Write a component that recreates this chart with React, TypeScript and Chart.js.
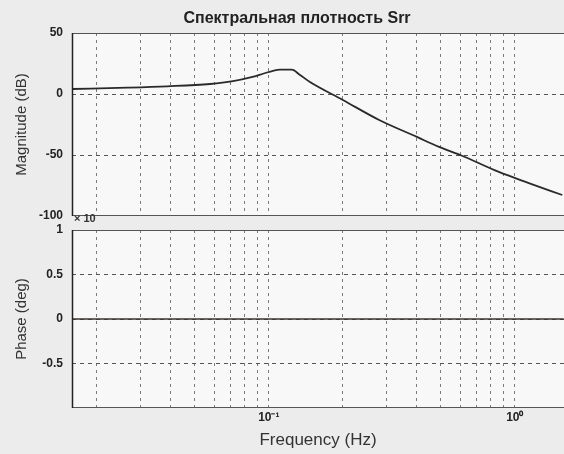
import React, { useEffect, useRef } from "react";
import { Chart, registerables } from "chart.js";
Chart.register(...registerables);

// ---- data ----
const freqHz = [0.0159, 0.0266, 0.0386, 0.0577, 0.0715, 0.085, 0.096, 0.104, 0.111, 0.124, 0.134, 0.147, 0.2, 0.281, 0.4, 0.492, 0.6, 0.861, 1.14, 1.56];
const magnitudeDb = [4.1, 5.2, 6.3, 8.2, 10.5, 13.8, 17.0, 19.0, 19.9, 19.9, 15.6, 9.8, -4.9, -21.3, -35.2, -43.4, -50, -63.9, -73, -82.8];
const phaseFreqHz = [0.0159, 1.58];
const phaseDeg = [0, 0];

const magTicks = [50, 0, -50, -100];
const phaseTicks = [1, 0.5, 0, -0.5, -1];
const phaseTickLabels = ["1", "0.5", "0", "-0.5", ""];
const freqGridHz = [0.02, 0.03, 0.04, 0.05, 0.06, 0.07, 0.08, 0.09, 0.1, 0.2, 0.3, 0.4, 0.5, 0.6, 0.7, 0.8, 0.9, 1];
const decadeTickValues = [0.1, 1];
const decadeTickLabels = ["10\u207B\u00B9", "10\u2070"];

const titleText = "Спектральная плотность Srr";
const magTitle = "Magnitude (dB)";
const phaseTitle = "Phase (deg)";
const freqTitle = "Frequency (Hz)";
const exponentText = "× 10";

const FONT = "'Liberation Sans', Arial, sans-serif";
const X_MIN = Math.pow(10, -1.8);
const X_MAX = Math.pow(10, 0.2);
const W = 564;
const H = 454;

const framePlugin = {
  id: "frame",
  beforeDraw(chart: any) {
    const { ctx, chartArea: a } = chart;
    ctx.save();
    ctx.fillStyle = "#f8f8f8";
    ctx.fillRect(a.left, a.top, a.right - a.left, a.bottom - a.top);
    ctx.restore();
  },
  afterDraw(chart: any) {
    const { ctx, chartArea: a } = chart;
    ctx.save();
    ctx.strokeStyle = "#555";
    ctx.lineWidth = 1;
    ctx.beginPath();
    ctx.moveTo(a.left, a.top + 0.5);
    ctx.lineTo(a.right, a.top + 0.5);
    ctx.moveTo(a.left, a.bottom - 0.5);
    ctx.lineTo(a.right, a.bottom - 0.5);
    ctx.stroke();
    ctx.strokeStyle = "#222";
    ctx.lineWidth = 1.5;
    ctx.beginPath();
    ctx.moveTo(a.left + 0.5, a.top);
    ctx.lineTo(a.left + 0.5, a.bottom);
    ctx.stroke();
    const extra = chart.options.plugins.frame || {};
    if (extra.title) {
      ctx.fillStyle = "#222";
      ctx.font = `bold 16px ${FONT}`;
      ctx.textAlign = "center";
      ctx.textBaseline = "middle";
      ctx.fillText(extra.title, extra.titleX, extra.titleY);
    }
    if (extra.exponent) {
      ctx.fillStyle = "#333";
      ctx.font = `bold 11px ${FONT}`;
      ctx.textAlign = "left";
      ctx.textBaseline = "middle";
      ctx.fillText(extra.exponent, a.left + 2, a.top - 11);
    }
    ctx.restore();
  },
};

function xScale(showLabels: boolean) {
  return {
    type: "logarithmic",
    min: X_MIN,
    max: X_MAX,
    afterBuildTicks: (s: any) => {
      s.ticks = freqGridHz.map((v) => ({ value: v }));
    },
    afterFit: (s: any) => {
      s.height = showLabels ? H - 408 : 0;
    },
    ticks: {
      display: showLabels,
      autoSkip: false,
      maxRotation: 0,
      padding: 2,
      color: "#222",
      font: { family: FONT, size: 12, weight: "bold" },
      callback: (value: any) => {
        const i = decadeTickValues.findIndex((d) => Math.abs(d - value) < d * 1e-6);
        return i >= 0 ? decadeTickLabels[i] : "";
      },
    },
    grid: {
      drawTicks: false,
      color: "#7a7a7a",
      lineWidth: 1,
    },
    border: { display: false, dash: [3, 4] },
    title: showLabels
      ? {
          display: true,
          text: freqTitle,
          color: "#333",
          font: { family: FONT, size: 17 },
          padding: { top: 0, bottom: 3 },
        }
      : { display: false },
  };
}

function yScale(title: string, min: number, max: number, ticks: number[], labels: (v: number, i: number) => string) {
  return {
    type: "linear",
    min,
    max,
    afterBuildTicks: (s: any) => {
      s.ticks = ticks.map((v) => ({ value: v }));
    },
    afterFit: (s: any) => {
      s.width = 72;
    },
    ticks: {
      padding: 9,
      color: "#222",
      font: { family: FONT, size: 12, weight: "bold" },
      callback: (value: any, i: number) => labels(value, i),
    },
    grid: {
      drawTicks: false,
      color: (c: any) => (c.tick && (c.tick.value === min || c.tick.value === max) ? "rgba(0,0,0,0)" : "#555"),
      lineWidth: 1,
    },
    border: { display: false, dash: [4, 4] },
    title: {
      display: true,
      text: title,
      color: "#333",
      font: { family: FONT, size: 15 },
      padding: { top: 13, bottom: 0 },
    },
  };
}

export default function App() {
  const topRef = useRef<HTMLCanvasElement>(null);
  const botRef = useRef<HTMLCanvasElement>(null);

  useEffect(() => {
    const top = new Chart(topRef.current as HTMLCanvasElement, {
      type: "line",
      data: {
        datasets: [
          {
            data: freqHz.map((f, i) => ({ x: f, y: magnitudeDb[i] })),
            borderColor: "#2a2a2a",
            borderWidth: 1.8,
            pointRadius: 0,
            cubicInterpolationMode: "monotone",
          },
        ],
      },
      options: {
        responsive: false,
        animation: false,
        layout: { padding: { top: 33, bottom: H - 216, left: 0, right: 0 } },
        plugins: {
          legend: { display: false },
          tooltip: { enabled: false },
          frame: { title: titleText, titleX: 297, titleY: 19 },
        } as any,
        scales: {
          x: xScale(false) as any,
          y: yScale(magTitle, -100, 50, magTicks, (v) => String(v)) as any,
        },
      },
      plugins: [framePlugin],
    });

    const bot = new Chart(botRef.current as HTMLCanvasElement, {
      type: "line",
      data: {
        datasets: [
          {
            data: phaseFreqHz.map((f, i) => ({ x: f, y: phaseDeg[i] })),
            borderColor: "#3a3430",
            borderWidth: 1.6,
            pointRadius: 0,
          },
        ],
      },
      options: {
        responsive: false,
        animation: false,
        layout: { padding: { top: 230, bottom: 0, left: 0, right: 0 } },
        plugins: {
          legend: { display: false },
          tooltip: { enabled: false },
          frame: { exponent: exponentText },
        } as any,
        scales: {
          x: xScale(true) as any,
          y: yScale(phaseTitle, -1, 1, phaseTicks, (v, i) => {
            const k = phaseTicks.indexOf(v);
            return k >= 0 ? phaseTickLabels[k] : "";
          }) as any,
        },
      },
      plugins: [framePlugin],
    });

    return () => {
      top.destroy();
      bot.destroy();
    };
  }, []);

  return (
    <div style={{ position: "fixed", left: 0, top: 0, width: W, height: H, background: "#ececec", overflow: "hidden" }}>
      <canvas ref={topRef} width={W} height={H} style={{ position: "absolute", left: 0, top: 0 }} />
      <canvas ref={botRef} width={W} height={H} style={{ position: "absolute", left: 0, top: 0 }} />
    </div>
  );
}
